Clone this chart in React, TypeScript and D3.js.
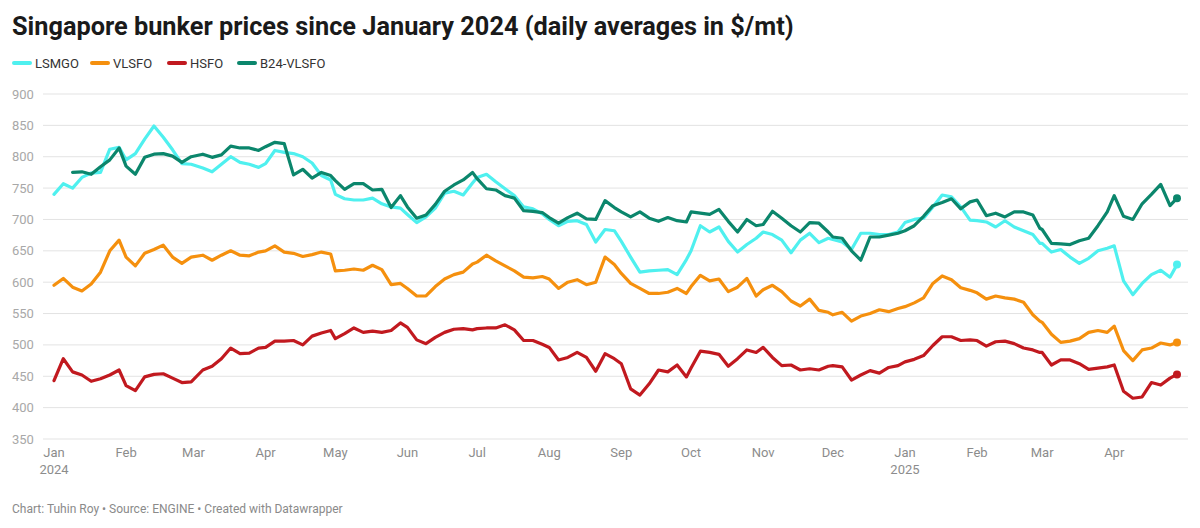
import * as d3 from 'd3';

const dates: string[] = [
  '2024-01-01', '2024-01-05', '2024-01-09', '2024-01-13', '2024-01-17', '2024-01-21', '2024-01-25', '2024-01-29',
  '2024-02-01', '2024-02-05', '2024-02-09', '2024-02-13', '2024-02-17', '2024-02-21', '2024-02-25', '2024-02-29',
  '2024-03-05', '2024-03-09', '2024-03-13', '2024-03-17', '2024-03-21', '2024-03-25', '2024-03-29',
  '2024-04-01', '2024-04-05', '2024-04-09', '2024-04-13', '2024-04-17', '2024-04-21', '2024-04-25', '2024-04-29',
  '2024-05-01', '2024-05-05', '2024-05-09', '2024-05-13', '2024-05-17', '2024-05-21', '2024-05-25', '2024-05-29',
  '2024-06-01', '2024-06-05', '2024-06-09', '2024-06-13', '2024-06-17', '2024-06-21', '2024-06-25', '2024-06-29',
  '2024-07-01', '2024-07-05', '2024-07-09', '2024-07-13', '2024-07-17', '2024-07-21', '2024-07-25', '2024-07-29',
  '2024-08-01', '2024-08-05', '2024-08-09', '2024-08-13', '2024-08-17', '2024-08-21', '2024-08-25', '2024-08-29',
  '2024-09-01', '2024-09-05', '2024-09-09', '2024-09-13', '2024-09-17', '2024-09-21', '2024-09-25', '2024-09-29',
  '2024-10-01', '2024-10-05', '2024-10-09', '2024-10-13', '2024-10-17', '2024-10-21', '2024-10-25', '2024-10-29',
  '2024-11-01', '2024-11-05', '2024-11-09', '2024-11-13', '2024-11-17', '2024-11-21', '2024-11-25', '2024-11-29',
  '2024-12-01', '2024-12-05', '2024-12-09', '2024-12-13', '2024-12-17', '2024-12-21', '2024-12-25', '2024-12-29',
  '2025-01-01', '2025-01-05', '2025-01-09', '2025-01-13', '2025-01-17', '2025-01-21', '2025-01-25', '2025-01-29',
  '2025-02-01', '2025-02-05', '2025-02-09', '2025-02-13', '2025-02-17', '2025-02-21', '2025-02-25', '2025-02-28',
  '2025-03-01', '2025-03-05', '2025-03-09', '2025-03-13', '2025-03-17', '2025-03-21', '2025-03-25', '2025-03-29',
  '2025-04-01', '2025-04-05', '2025-04-09', '2025-04-13', '2025-04-17', '2025-04-21', '2025-04-25', '2025-04-28',
];

const lsmgo: (number | null)[] = [
  740, 757, 750, 767, 774, 775, 812, 815,
  795, 805, 828, 849, 831, 811, 789, 788,
  782, 776, 788, 800, 791, 788, 783,
  789, 810, 807, 805, 800, 790, 770, 763,
  740, 733, 731, 731, 734, 725, 720, 718,
  708, 695, 704, 718, 742, 745, 739, 758,
  767, 772, 760, 749, 738, 720, 717, 709,
  700, 690, 697, 698, 692, 664, 684, 682,
  665, 640, 616, 618, 619, 620, 612, 636,
  650, 690, 680, 688, 665, 648, 660, 670,
  680, 676, 667, 647, 667, 678, 663, 670,
  668, 664, 652, 678, 678, 676, 676, 680,
  695, 700, 702, 720, 739, 736, 720, 699,
  698, 696, 688, 698, 688, 682, 676, 662,
  662, 648, 652, 640, 630, 638, 650, 654,
  658, 602, 580, 598, 612, 619, 608, 628,
];

const vlsfo: (number | null)[] = [
  595, 606, 592, 586, 597, 616, 650, 667,
  640, 626, 646, 652, 659, 640, 630, 640,
  643, 635, 643, 650, 643, 642, 648,
  650, 658, 648, 646, 641, 644, 648, 645,
  618, 619, 621, 619, 627, 620, 596, 598,
  590, 578, 578, 593, 605, 612, 616, 629,
  632, 643, 634, 626, 618, 608, 607, 609,
  605, 590, 600, 604, 596, 600, 640, 628,
  614, 598, 590, 582, 582, 584, 590, 582,
  593, 611, 602, 605, 585, 592, 606, 578,
  588, 595, 585, 570, 562, 573, 555, 552,
  548, 552, 538, 546, 550, 556, 553, 558,
  561, 567, 575, 598, 610, 604, 591, 587,
  583, 573, 578, 575, 573, 568, 548, 538,
  536, 517, 504, 506, 510, 520, 523, 520,
  530, 491, 475, 492, 495, 503, 500, 504,
];

const hsfo: (number | null)[] = [
  443, 478, 457, 452, 442, 446, 452, 460,
  435, 427, 449, 453, 454, 447, 440, 441,
  460, 466, 478, 495, 486, 487, 495,
  496, 506, 506, 507, 500, 514, 519, 523,
  510, 518, 527, 520, 522, 520, 523, 535,
  528, 508, 502, 512, 520, 525, 526, 524,
  526, 527, 527, 532, 524, 507, 507, 501,
  496, 476, 480, 488, 480, 458, 486, 478,
  470, 430, 420, 438, 460, 457, 468, 449,
  463, 490, 488, 485, 466, 478, 492, 488,
  496, 480, 467, 468, 460, 462, 460, 466,
  467, 465, 444, 452, 459, 455, 464, 467,
  473, 477, 483, 499, 513, 513, 507, 508,
  507, 498, 505, 506, 502, 495, 492, 488,
  488, 468, 476, 476, 470, 461, 463, 465,
  468, 426, 415, 417, 440, 436, 447, 453,
];

const b24: (number | null)[] = [
  null, null, 775, 776, 772, 784, 795, 814,
  785, 772, 799, 804, 805, 801, 791, 800,
  804, 799, 803, 817, 814, 814, 810,
  816, 823, 821, 771, 780, 766, 775, 770,
  762, 748, 757, 757, 747, 748, 719, 738,
  720, 702, 707, 724, 745, 755, 763, 775,
  765, 749, 747, 738, 734, 714, 713, 711,
  703, 694, 703, 710, 701, 700, 730, 719,
  712, 704, 712, 702, 697, 703, 698, 696,
  712, 710, 708, 716, 697, 680, 700, 690,
  692, 713, 702, 690, 680, 695, 694, 680,
  672, 670, 650, 635, 672, 672, 675, 678,
  682, 690, 705, 722, 727, 733, 717, 728,
  731, 706, 710, 704, 712, 712, 707, 686,
  684, 662, 661, 660, 666, 670, 690, 712,
  738, 705, 700, 725, 740, 756, 722, 734,
];

const seriesNames = ['LSMGO', 'VLSFO', 'HSFO', 'B24-VLSFO'];
const seriesColors = ['#4ff0ef', '#f5900e', '#c1191f', '#0b866c'];
const seriesValues = [lsmgo, vlsfo, hsfo, b24];

const yTicks = [350, 400, 450, 500, 550, 600, 650, 700, 750, 800, 850, 900];
const xTickDates = [
  '2024-01-01', '2024-02-01', '2024-03-01', '2024-04-01', '2024-05-01', '2024-06-01',
  '2024-07-01', '2024-08-01', '2024-09-01', '2024-10-01', '2024-11-01', '2024-12-01',
  '2025-01-01', '2025-02-01', '2025-03-01', '2025-04-01',
];

const FONT = 'Roboto, "Noto Sans", sans-serif';
const W = 1200;
const H = 528;

type Pt = { d: Date; v: number | null };

export default function App() {
  const parse = d3.utcParse('%Y-%m-%d');
  const parsed = dates.map((s) => parse(s) as Date);

  const x = d3
    .scaleUtc()
    .domain([parsed[0], parsed[parsed.length - 1]])
    .range([54, 1177]);
  const y = d3.scaleLinear().domain([350, 900]).range([439, 94]);

  const line = d3
    .line<Pt>()
    .defined((p) => p.v !== null)
    .x((p) => x(p.d))
    .y((p) => y(p.v as number));

  const fmtMonth = d3.utcFormat('%b');
  const fmtYear = d3.utcFormat('%Y');

  const legendX = [12, 90, 167, 237];

  return (
    <div style={{ position: 'fixed', left: 0, top: 0 }}>
      <svg width={W} height={H} style={{ display: 'block', background: '#fff' }} fontFamily={FONT}>
        <text x={12} y={35} fontSize={25.3} fontWeight={700} fill="#1a1a1a">
          Singapore bunker prices since January 2024 (daily averages in $/mt)
        </text>

        {seriesNames.map((name, i) => (
          <g key={name} transform={`translate(${legendX[i]},63)`}>
            <line x1={2} x2={18} y1={0} y2={0} stroke={seriesColors[i]} strokeWidth={4} strokeLinecap="round" />
            <text x={23} y={0} dy="0.35em" fontSize={13} fill="#333">
              {name}
            </text>
          </g>
        ))}

        {yTicks.map((t) => (
          <g key={t}>
            <line x1={43} x2={1188} y1={y(t)} y2={y(t)} stroke="#e3e3e3" strokeWidth={1} />
            <text x={12} y={y(t)} dy="0.35em" fontSize={13} fill="#a8a8a8">
              {t}
            </text>
          </g>
        ))}

        {xTickDates.map((s) => {
          const d = parse(s) as Date;
          const isJan = d.getUTCMonth() === 0;
          return (
            <g key={s} transform={`translate(${x(d)},0)`}>
              <text y={457} textAnchor="middle" fontSize={13} fill="#8c8c8c">
                {fmtMonth(d)}
              </text>
              {isJan && (
                <text y={474} textAnchor="middle" fontSize={13} fill="#8c8c8c">
                  {fmtYear(d)}
                </text>
              )}
            </g>
          );
        })}

        {seriesValues.map((vals, i) => {
          const pts: Pt[] = parsed.map((d, k) => ({ d, v: vals[k] }));
          const last = pts[pts.length - 1];
          return (
            <g key={seriesNames[i]}>
              <path
                d={line(pts) ?? ''}
                fill="none"
                stroke={seriesColors[i]}
                strokeWidth={3.2}
                strokeLinejoin="round"
                strokeLinecap="round"
              />
              <circle cx={x(last.d)} cy={y(last.v as number)} r={4} fill={seriesColors[i]} />
            </g>
          );
        })}

        <text x={12} y={513} fontSize={12} fill="#8a8a8a">
          Chart: Tuhin Roy • Source: ENGINE • Created with Datawrapper
        </text>
      </svg>
    </div>
  );
}
